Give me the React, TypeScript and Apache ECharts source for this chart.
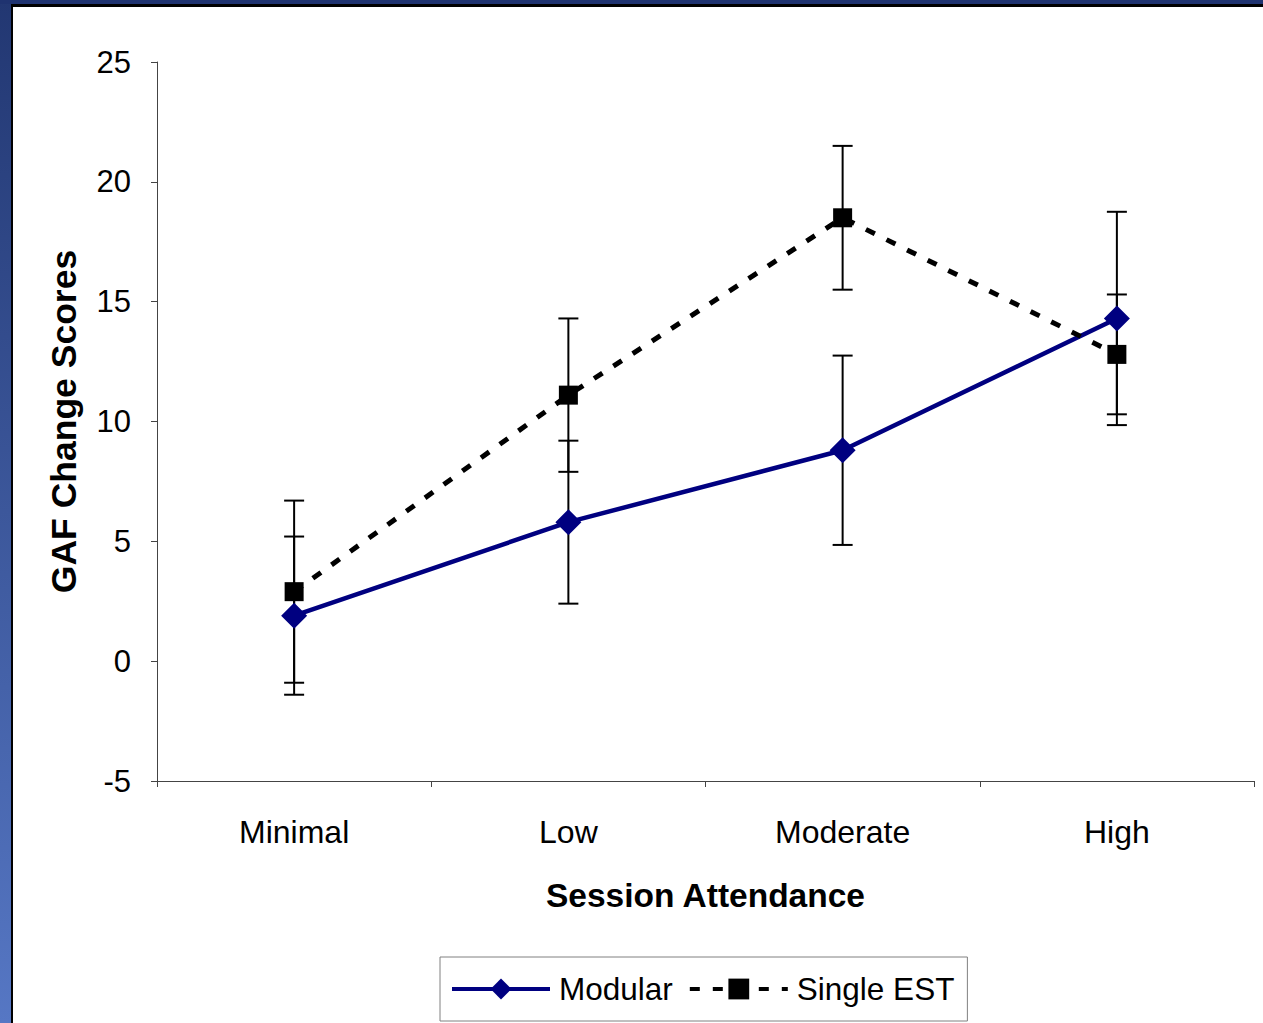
import React, { useEffect, useRef } from "react";
import * as echarts from "echarts";

const categories = ["Minimal", "Low", "Moderate", "High"];
const modular = [1.9, 5.8, 8.8, 14.3];
const modularErr = [3.3, 3.4, 3.95, 4.45];
const single = [2.9, 11.1, 18.5, 12.8];
const singleErr = [3.8, 3.2, 3.0, 2.5];
const yTicks = { min: -5, max: 25, interval: 5 };

export default function App() {
  const ref = useRef<HTMLDivElement>(null);
  useEffect(() => {
    document.body.style.margin = "0";
    const chart = echarts.init(ref.current!, undefined, { renderer: "svg" });
    const errData = (vals: number[], errs: number[]) =>
      vals.map((v, i) => [i, v - errs[i], v + errs[i]]);
    const renderErr = (params: any, api: any) => {
      const lo = api.coord([api.value(0), api.value(1)]);
      const hi = api.coord([api.value(0), api.value(2)]);
      const hw = 10;
      const style = { stroke: "#000", lineWidth: 2 };
      return {
        type: "group",
        children: [
          { type: "line", shape: { x1: lo[0], y1: lo[1], x2: hi[0], y2: hi[1] }, style },
          { type: "line", shape: { x1: lo[0] - hw, y1: lo[1], x2: lo[0] + hw, y2: lo[1] }, style },
          { type: "line", shape: { x1: hi[0] - hw, y1: hi[1], x2: hi[0] + hw, y2: hi[1] }, style },
        ],
      };
    };
    const font = "Liberation Sans, Arial, sans-serif";
    chart.setOption({
      animation: false,
      backgroundColor: "#fff",
      textStyle: { fontFamily: font },
      grid: { left: 157, right: 9, top: 62, bottom: 242 },
      xAxis: {
        type: "category",
        data: categories,
        boundaryGap: true,
        axisLine: { onZero: false, lineStyle: { color: "#444", width: 1 } },
        axisTick: { show: true, length: 6, lineStyle: { color: "#444" } },
        axisLabel: { color: "#000", fontSize: 32, margin: 35, fontFamily: font },
        name: "Session Attendance",
        nameLocation: "middle",
        nameGap: 97,
        nameTextStyle: { color: "#000", fontSize: 33.5, fontWeight: "bold", fontFamily: font },
      },
      yAxis: {
        type: "value",
        min: yTicks.min,
        max: yTicks.max,
        interval: yTicks.interval,
        splitLine: { show: false },
        axisLine: { show: true, lineStyle: { color: "#444", width: 1 } },
        axisTick: { show: true, length: 6, lineStyle: { color: "#444" } },
        axisLabel: { color: "#000", fontSize: 31, margin: 26, fontFamily: font },
        name: "GAF Change Scores",
        nameLocation: "middle",
        nameGap: 75,
        nameTextStyle: { color: "#000", fontSize: 35.5, fontWeight: "bold", fontFamily: font },
      },
      legend: {
        left: 440,
        top: 957,
        orient: "horizontal",
        borderColor: "#808080",
        borderWidth: 1,
        padding: [16, 13, 16, 10],
        itemGap: 15,
        itemWidth: 98,
        itemHeight: 26,
        lineStyle: { width: 4 },
        textStyle: { color: "#000", fontSize: 31.5, fontFamily: font, padding: [0, 0, 0, 4] },
        data: ["Modular", "Single EST"],
      },
      series: [
        {
          type: "custom",
          name: "errModular",
          renderItem: renderErr,
          data: errData(modular, modularErr),
          z: 1,
          silent: true,
        },
        {
          type: "custom",
          name: "errSingle",
          renderItem: renderErr,
          data: errData(single, singleErr),
          z: 1,
          silent: true,
        },
        {
          type: "line",
          name: "Modular",
          data: modular,
          symbol: "diamond",
          symbolSize: 26,
          lineStyle: { color: "#000080", width: 4.5 },
          itemStyle: { color: "#000080" },
          z: 3,
        },
        {
          type: "line",
          name: "Single EST",
          data: single,
          symbol: "rect",
          symbolSize: 19,
          lineStyle: { color: "#000", width: 5, type: [10, 13] },
          itemStyle: { color: "#000" },
          z: 4,
        },
      ],
      graphic: [
        {
          type: "rect",
          shape: { x: 0, y: 0, width: 11, height: 1023 },
          style: {
            fill: new echarts.graphic.LinearGradient(0, 0, 0, 1, [
              { offset: 0, color: "#223772" },
              { offset: 1, color: "#5677c4" },
            ]),
          },
          z: 10,
        },
        { type: "rect", shape: { x: 0, y: 0, width: 1263, height: 4 }, style: { fill: "#1f3370" }, z: 10 },
        { type: "rect", shape: { x: 11, y: 4, width: 1252, height: 3 }, style: { fill: "#000" }, z: 10 },
        { type: "rect", shape: { x: 11, y: 4, width: 2, height: 1019 }, style: { fill: "#000" }, z: 10 },
      ],
    });
    return () => chart.dispose();
  }, []);
  return <div ref={ref} style={{ width: 1263, height: 1023 }} />;
}
